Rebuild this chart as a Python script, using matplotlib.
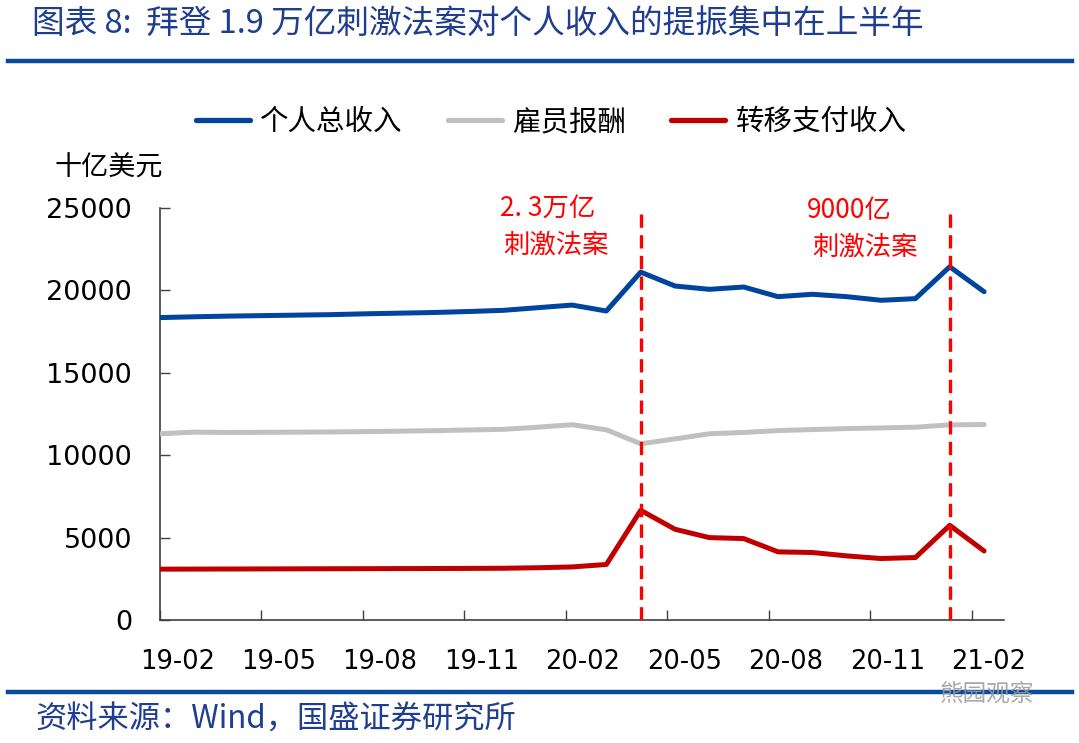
import matplotlib
matplotlib.use("Agg")
import matplotlib.pyplot as plt
from matplotlib.lines import Line2D

plt.rcParams['font.family'] = ['Noto Sans CJK SC', 'DejaVu Sans']

# ---- data (monthly, 2019-02 .. 2021-02) ----
months = ['19-02', '19-03', '19-04', '19-05', '19-06', '19-07', '19-08', '19-09', '19-10',
          '19-11', '19-12', '20-01', '20-02', '20-03', '20-04', '20-05', '20-06', '20-07',
          '20-08', '20-09', '20-10', '20-11', '20-12', '21-01', '21-02']
personal_income = [18350, 18400, 18440, 18470, 18500, 18530, 18580, 18620, 18660, 18720,
                   18790, 18950, 19110, 18750, 21110, 20265, 20065, 20205, 19620, 19765,
                   19620, 19400, 19500, 21435, 19920]
compensation = [11300, 11400, 11380, 11390, 11400, 11410, 11430, 11460, 11490, 11530,
                11570, 11700, 11850, 11540, 10690, 10990, 11300, 11380, 11495, 11555,
                11615, 11655, 11700, 11840, 11860]
transfer = [3085, 3090, 3095, 3100, 3105, 3110, 3115, 3120, 3125, 3130,
            3140, 3170, 3220, 3370, 6655, 5505, 5000, 4940, 4135, 4095,
            3890, 3730, 3790, 5745, 4190]
tick_labels = ['19-02', '19-05', '19-08', '19-11', '20-02', '20-05', '20-08', '20-11', '21-02']
stimulus_months = ['20-04', '21-01']
stimulus_labels = [['2. 3万亿', '刺激法案'], ['9000亿', '刺激法案']]
yticks = [0, 5000, 10000, 15000, 20000, 25000]

series_names = ['个人总收入', '雇员报酬', '转移支付收入']
series_colors = ['#00449E', '#C0C0C0', '#C00000']

W, H = 1079, 743
fig = plt.figure(figsize=(W / 100, H / 100), dpi=100)

def fx(px):
    return px / W

def fy(py):
    return 1 - py / H

ax = fig.add_axes([fx(160), fy(620), fx(1004) - fx(160), fy(208) - fy(620)])

x = list(range(len(months)))
for vals, c, name in zip([personal_income, compensation, transfer], series_colors, series_names):
    ax.plot(x, vals, color=c, lw=3.6, solid_capstyle='round', solid_joinstyle='round', label=name, zorder=3)

for m in stimulus_months:
    ax.axvline(months.index(m), ymin=0, ymax=0.995, color='#FF0000', lw=2.4,
               linestyle=(0, (4, 2.2)), zorder=4)

ax.set_xlim(0, 24.58)
ax.set_ylim(0, 25000)
ax.set_yticks(yticks)
ax.set_yticklabels([str(v) for v in yticks], family='DejaVu Sans', fontsize=19.5)

# tick marks at category boundaries (major), labels centred in the month (minor)
tick_pos = [months.index(t) * 0.985 for t in tick_labels]
ax.set_xticks(tick_pos)
ax.set_xticklabels([''] * len(tick_pos))
ax.set_xticks([p + 0.5 for p in tick_pos], minor=True)
ax.set_xticklabels(tick_labels, minor=True, family='DejaVu Sans', fontsize=18.5)

ax.tick_params(axis='both', which='major', direction='in', length=7, width=1, color='#404040')
ax.tick_params(axis='x', which='minor', length=0, pad=21)
ax.tick_params(axis='y', pad=20)
for s in ['top', 'right']:
    ax.spines[s].set_visible(False)
for s in ['left', 'bottom']:
    ax.spines[s].set_color('#404040')
    ax.spines[s].set_linewidth(1.2)

# stimulus annotations
ann_pos = [(548, 208, 556, 245), (849, 210, 865, 247)]
for (l1, l2), (x1, y1, x2, y2) in zip(stimulus_labels, ann_pos):
    fig.text(fx(x1), fy(y1), l1, color='#FF0000', fontsize=19, ha='center', va='center')
    fig.text(fx(x2), fy(y2), l2, color='#FF0000', fontsize=19, ha='center', va='center')

# y unit label
fig.text(fx(55), fy(168), '十亿美元', fontsize=19.5, ha='left', va='center', color='black')

# legend
handles = [Line2D([0], [0], color=c, lw=3.8, solid_capstyle='round') for c in series_colors]
leg = fig.legend(handles, series_names, loc='center', bbox_to_anchor=(fx(551), fy(122)),
                 ncol=3, frameon=False, fontsize=20.5, handlelength=1.9, columnspacing=1.6,
                 handletextpad=0.35)

# title and rules
title_color = '#1F3E8F'
fig.text(fx(32), fy(24), '图表 8:  拜登 1.9 万亿刺激法案对个人收入的提振集中在上半年',
         fontsize=23.5, color=title_color, ha='left', va='center', style='italic')
fig.add_artist(Line2D([fx(8), fx(1072)], [fy(61), fy(61)], color='#0A4A9C', lw=3.2))
fig.add_artist(Line2D([fx(8), fx(1072)], [fy(692), fy(692)], color='#0A4A9C', lw=3.2))
fig.text(fx(35), fy(720), '资料来源：Wind，国盛证券研究所', fontsize=22.5, color=title_color,
         ha='left', va='center', style='italic')
fig.text(fx(940), fy(694), '熊园观察', fontsize=17, color='#9A9A9A', ha='left', va='center', alpha=0.85)

fig.savefig('out.png', dpi=100)
